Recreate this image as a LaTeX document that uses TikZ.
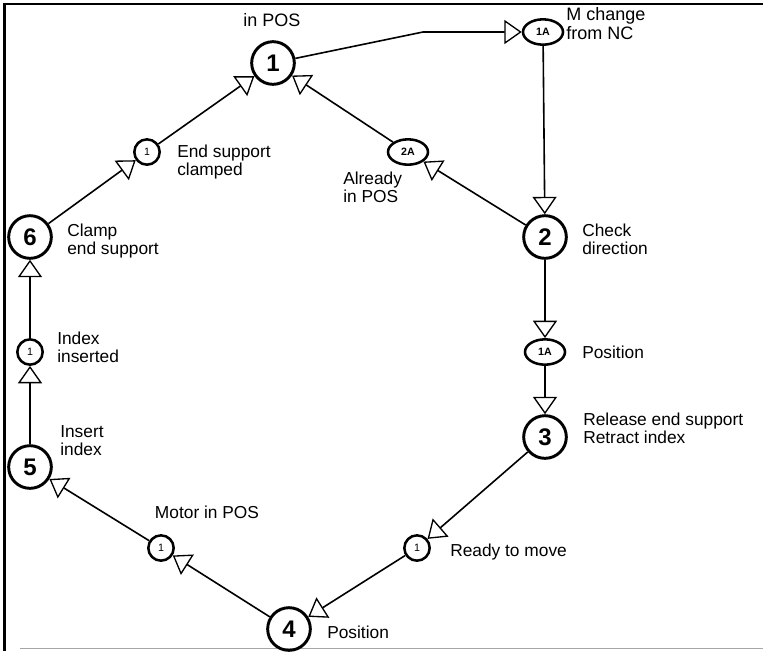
\documentclass[tikz,border=0pt]{standalone}
\usepackage{fontspec}
\setmainfont{Liberation Sans}
\usetikzlibrary{arrows.meta,shapes.geometric}
\begin{document}
\begin{tikzpicture}[x=0.75pt,y=-0.75pt,
  bigstate/.style={circle,draw,line width=2.2pt,minimum size=32pt,inner sep=0pt,
    font=\fontsize{18}{18}\selectfont\bfseries},
  substate/.style={circle,draw,line width=1.9pt,minimum size=19pt,inner sep=0pt,
    font=\fontsize{8}{8}\selectfont},
  altstate/.style={ellipse,draw,line width=1.9pt,minimum width=30pt,minimum height=19pt,inner xsep=4pt,inner ysep=3pt,
    font=\fontsize{8}{8}\selectfont\bfseries},
  lbl/.style={font=\fontsize{13}{13.5}\selectfont,align=left,anchor=west,inner sep=0pt},
  toplbl/.style={font=\fontsize{13.5}{14}\selectfont,align=left,inner sep=0pt},
  flow/.style={draw,line width=1.2pt,-{Triangle[open,length=13pt,width=18pt,fill=white,line width=1pt]}}
]
\useasboundingbox (0,0) rectangle (763,651);

% frame
\draw[line width=1.8pt] (4.5,651) -- (4.5,4) -- (763,4);
\draw[line width=1.4pt,gray!70] (20,648.5) -- (763,648.5);

% states
\node[bigstate] (n1) at (273,63) {1};
\node[altstate] (a1) at (543,32) {1A};
\node[altstate] (a2) at (408,152) {2A};
\node[bigstate] (n2) at (545,237) {2};
\node[altstate] (b1) at (545,352) {1A};
\node[bigstate] (n3) at (545,437) {3};
\node[substate] (r1) at (417,548) {1};
\node[bigstate] (n4) at (289,629) {4};
\node[substate] (m1) at (161,548) {1};
\node[bigstate] (n5) at (30,467) {5};
\node[substate] (i1) at (30,352) {1};
\node[bigstate] (n6) at (30,237) {6};
\node[substate] (c1) at (147,152) {1};
\coordinate (bend) at (423,32);

% labels
\node[toplbl] (t1) at (272,20) {in POS};
\node[toplbl,anchor=west] (ta1) at (566,23.5) {M change\\from NC};
\node[lbl] (ta2) at (343,187) {Already\\in POS};
\node[lbl] (tc1) at (177,162) {End support\\clamped};
\node[lbl] (tn6) at (67,241) {Clamp\\end support};
\node[lbl] (ti1) at (57,347) {Index\\inserted};
\node[lbl] (tn5) at (60,441) {Insert\\index};
\node[lbl,anchor=center] (tm1) at (207,512) {Motor in POS};
\node[lbl] (tn4) at (327,632) {Position};
\node[lbl] (tr1) at (450,552) {Ready to move};
\node[lbl] (tn3) at (583,428) {Release end support\\Retract index};
\node[lbl] (tb1) at (582,352) {Position};
\node[lbl] (tn2) at (582,239) {Check\\direction};

% transitions
\draw[flow] (n1) -- (bend) -- (a1);
\draw[flow] (a1) -- (n2);
\draw[flow] (n2) -- (a2);
\draw[flow] (a2) -- (n1);
\draw[flow] (n2) -- (b1);
\draw[flow] (b1) -- (n3);
\draw[flow] (n3) -- (r1);
\draw[flow] (r1) -- (n4);
\draw[flow] (n4) -- (m1);
\draw[flow] (m1) -- (n5);
\draw[flow] (n5) -- (i1);
\draw[flow] (i1) -- (n6);
\draw[flow] (n6) -- (c1);
\draw[flow] (c1) -- (n1);
\end{tikzpicture}
\end{document}
